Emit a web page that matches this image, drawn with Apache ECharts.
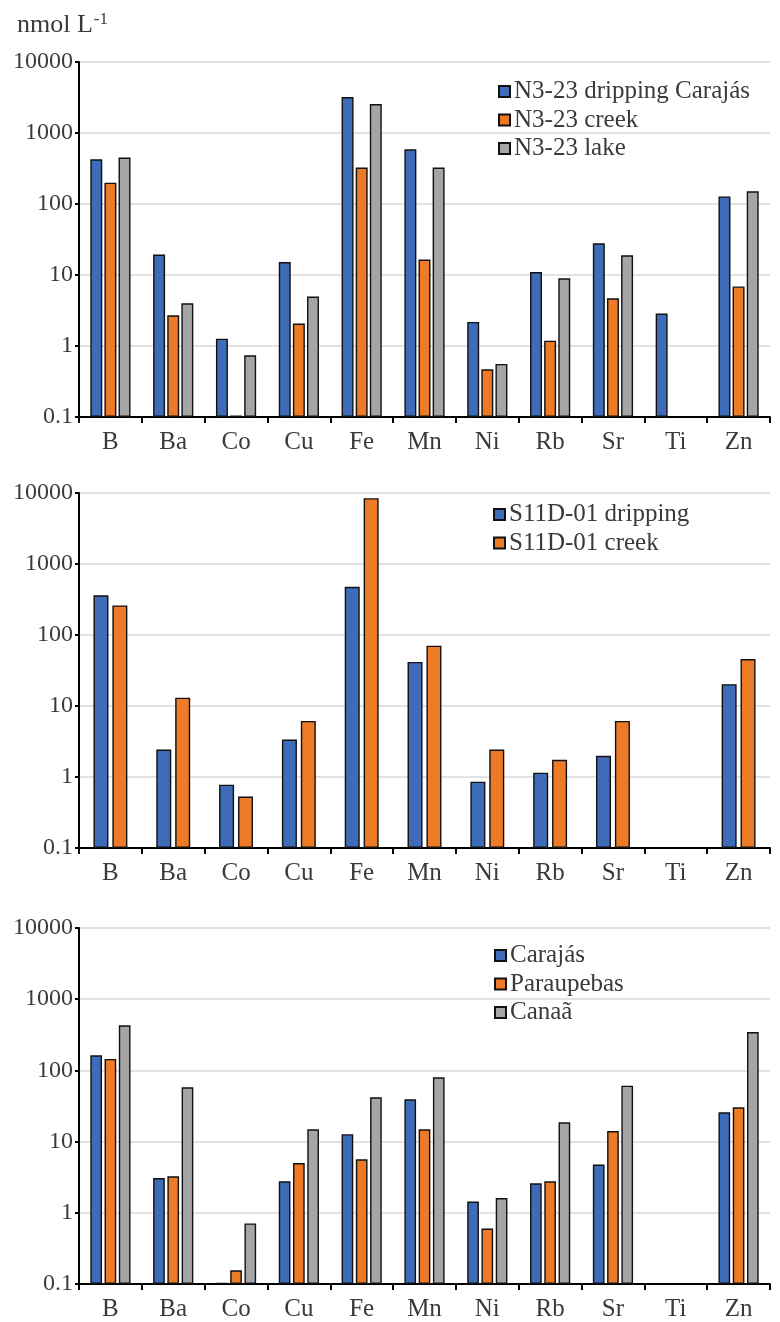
<!DOCTYPE html>
<html>
<head>
<meta charset="utf-8">
<script src="https://cdn.jsdelivr.net/npm/echarts@6/dist/echarts.min.js"></script>
<style>
  html, body { margin: 0; padding: 0; background: #ffffff; }
  #chart { width: 780px; height: 1322px; }
</style>
</head>
<body>
<div id="chart"></div>
<script>
// Element categories shared by all three panels
const elements = ['B', 'Ba', 'Co', 'Cu', 'Fe', 'Mn', 'Ni', 'Rb', 'Sr', 'Ti', 'Zn'];
const yTicks = [0.1, 1, 10, 100, 1000, 10000];
const unitLabel = 'nmol L';
const unitSup = '-1';

// Panel 1: N3-23
const n323Names = ['N3-23 dripping Carajás', 'N3-23 creek', 'N3-23 lake'];
const n323Dripping = [427, 19.4, 1.27, 15.2, 3210, 590, 2.18, 11.0, 27.9, 2.86, 128];
const n323Creek    = [200, 2.7, 0.105, 2.07, 326, 16.5, 0.47, 1.19, 4.7, null, 6.9];
const n323Lake     = [450, 4.0, 0.74, 4.97, 2560, 326, 0.56, 9.0, 18.9, null, 151];

// Panel 2: S11D-01
const s11dNames = ['S11D-01 dripping', 'S11D-01 creek'];
const s11dDripping = [362, 2.44, 0.78, 3.37, 478, 41.7, 0.86, 1.15, 1.99, null, 20.3];
const s11dCreek    = [261, 13.1, 0.53, 6.17, 8450, 70.8, 2.44, 1.75, 6.17, null, 45.9];

// Panel 3: towns
const townNames = ['Carajás', 'Paraupebas', 'Canaã'];
const townCarajas    = [163, 3.08, 0.104, 2.77, 12.7, 39.3, 1.44, 2.6, 4.75, null, 25.8];
const townParaupebas = [145, 3.26, 0.156, 5.0, 5.64, 14.9, 0.60, 2.77, 14.1, null, 30.3];
const townCanaa      = [430, 58, 0.71, 14.9, 41.9, 80, 1.61, 18.7, 61, null, 346];

const COLORS = ['#3f6cb8', '#ed7a26', '#a5a5a5'];
const FONT = '"Liberation Serif", "DejaVu Serif", serif';
const TEXT = '#3a3a3a';

const panels = [
  { top: 62,  height: 355, names: n323Names, data: [n323Dripping, n323Creek, n323Lake],
    barGap: '18%', catGap: '36%', legendLeft: 498, legendTop: 79 },
  { top: 493, height: 355, names: s11dNames, data: [s11dDripping, s11dCreek],
    barGap: '26%', catGap: '46%', legendLeft: 493, legendTop: 502 },
  { top: 928, height: 356, names: townNames, data: [townCarajas, townParaupebas, townCanaa],
    barGap: '22%', catGap: '36%', legendLeft: 494, legendTop: 943 }
];

const grid = [], xAxis = [], yAxis = [], series = [], legend = [];

panels.forEach((p, i) => {
  grid.push({ left: 79, right: 10, top: p.top, height: p.height, containLabel: false });
  xAxis.push({
    type: 'category', gridIndex: i, data: elements,
    axisLine: { lineStyle: { color: '#000', width: 2 } },
    axisTick: { show: true, alignWithLabel: false, length: 6, lineStyle: { color: '#000', width: 2 } },
    axisLabel: { fontFamily: FONT, fontSize: 25, color: TEXT, margin: 13 },
    splitLine: { show: false }
  });
  yAxis.push({
    type: 'log', gridIndex: i, logBase: 10,
    min: yTicks[0], max: yTicks[yTicks.length - 1],
    startValue: yTicks[0],
    axisLine: { show: true, lineStyle: { color: '#000', width: 2 } },
    axisTick: { show: true, length: 4, lineStyle: { color: '#000', width: 2 } },
    axisLabel: {
      fontFamily: FONT, fontSize: 24, color: TEXT, margin: 6,
      formatter: v => String(+Number(v).toPrecision(6))
    },
    splitLine: { show: true, lineStyle: { color: '#d9d9d9', width: 1.5 } }
  });
  p.names.forEach((name, k) => {
    series.push({
      name, type: 'bar', xAxisIndex: i, yAxisIndex: i,
      data: p.data[k],
      barGap: p.barGap, barCategoryGap: p.catGap,
      itemStyle: { color: COLORS[k], borderColor: '#111', borderWidth: 1.4 },
      emphasis: { disabled: true },
      animation: false
    });
  });
  legend.push({
    data: p.names, orient: 'vertical', left: p.legendLeft, top: p.legendTop,
    padding: 0, itemGap: 3.5, itemWidth: 11, itemHeight: 11, icon: 'rect',
    textStyle: { fontFamily: FONT, fontSize: 25, color: TEXT, lineHeight: 24, padding: [0, 0, 0, -1] },
    selectedMode: false
  });
});

const chart = echarts.init(document.getElementById('chart'), null, { renderer: 'canvas' });
chart.setOption({
  backgroundColor: '#ffffff',
  animation: false,
  title: {
    text: '{u|' + unitLabel + '}{s|' + unitSup + '}',
    left: 12, top: 6,
    textStyle: {
      fontWeight: 'normal',
      rich: {
        u: { fontFamily: FONT, fontSize: 26, fontWeight: 'normal', color: TEXT },
        s: { fontFamily: FONT, fontSize: 17, fontWeight: 'normal', color: TEXT, verticalAlign: 'top', padding: [0, 0, 11, 1] }
      }
    }
  },
  grid, xAxis, yAxis, series, legend
});
</script>
</body>
</html>
